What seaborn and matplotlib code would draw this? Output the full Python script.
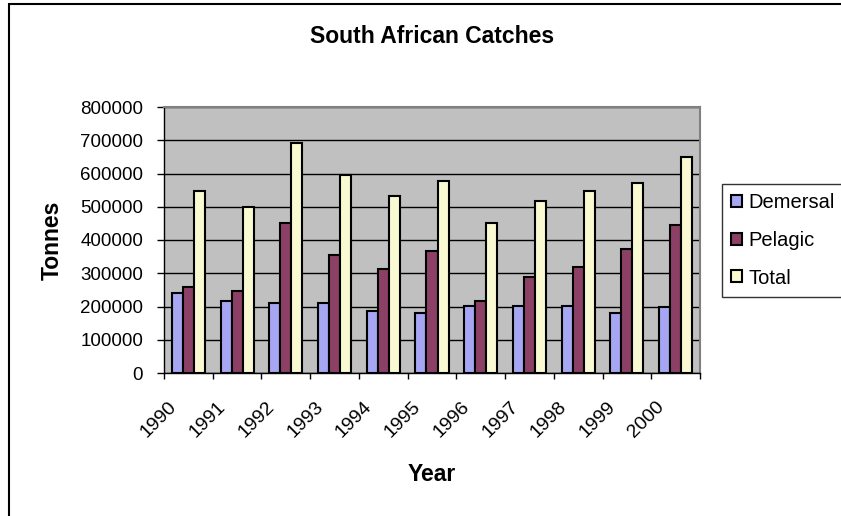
import pandas as pd
import seaborn as sns
import matplotlib.pyplot as plt
import matplotlib.transforms as mtransforms
from matplotlib.patches import Rectangle
from matplotlib.ticker import FuncFormatter

# Data
years = ['1990', '1991', '1992', '1993', '1994', '1995', '1996', '1997', '1998', '1999', '2000']
demersal = [240000, 216000, 210000, 210000, 185000, 179000, 203000, 203000, 203000, 180000, 197000]
pelagic = [258000, 246000, 450000, 355000, 312000, 366000, 216000, 289000, 319000, 372000, 444000]
total = [546000, 499000, 692000, 594000, 533000, 577000, 450000, 517000, 547000, 571000, 649000]
series = ['Demersal', 'Pelagic', 'Total']
colors = ['#9999FF', '#993366', '#FFFFCC']

df = pd.DataFrame({'Year': years * 3,
                   'Tonnes': demersal + pelagic + total,
                   'Series': [s for s in series for _ in years]})

sns.set_style('white')
plt.rcParams['font.family'] = ['Liberation Sans', 'DejaVu Sans']
plt.rcParams.update({'text.color': 'black', 'axes.labelcolor': 'black',
                     'xtick.color': 'black', 'ytick.color': 'black'})

fig = plt.figure(figsize=(8.41, 5.16), dpi=100)
ax = fig.add_axes([164 / 841, 1 - 373 / 516, 536 / 841, 266 / 516])
ax.set_facecolor('#C0C0C0')

sns.barplot(data=df, x='Year', y='Tonnes', hue='Series', palette=colors,
            edgecolor='black', linewidth=1.5, width=0.68, ax=ax, zorder=3)

ax.set_ylim(0, 800000)
ax.set_xlim(-0.5, len(years) - 0.5)
ax.set_yticks(range(0, 800001, 100000))
ax.yaxis.set_major_formatter(FuncFormatter(lambda v, p: f'{int(v)}'))
ax.grid(axis='y', color='black', linewidth=1, zorder=1)
ax.set_axisbelow(True)

# ticks at category boundaries
ax.set_xticks([i - 0.5 for i in range(len(years) + 1)], minor=True)
ax.tick_params(axis='x', which='major', length=0, pad=6)
ax.tick_params(axis='x', which='minor', length=4.5, width=1, color='black', direction='out', bottom=True)
ax.tick_params(axis='y', length=5, width=1, color='black', direction='out', left=True,
               labelsize=13.5, pad=10)
shift = mtransforms.ScaledTranslation(-0.20, -0.17, fig.dpi_scale_trans)
for lab in ax.get_xticklabels():
    lab.set_rotation(45)
    lab.set_ha('right')
    lab.set_va('top')
    lab.set_rotation_mode('anchor')
    lab.set_fontsize(14)
    lab.set_transform(lab.get_transform() + shift)

for side in ['top', 'right']:
    ax.spines[side].set_color('#808080')
    ax.spines[side].set_linewidth(1.5)
for side in ['left', 'bottom']:
    ax.spines[side].set_color('black')
    ax.spines[side].set_linewidth(1)

ax.set_title('South African Catches', fontsize=16.5, fontweight='bold', pad=46)
ax.set_xlabel('Year', fontsize=16.5, fontweight='bold', labelpad=16)
ax.set_ylabel('Tonnes', fontsize=16.5, fontweight='bold', labelpad=12)

leg = ax.legend(loc='upper left', bbox_to_anchor=(722 / 841, 1 - 184 / 516),
                bbox_transform=fig.transFigure, fontsize=14.5, frameon=True,
                fancybox=False, edgecolor='black', handlelength=0.55, handleheight=0.55,
                handletextpad=0.3, labelspacing=0.93, borderpad=0.45, borderaxespad=0)
leg.get_frame().set_linewidth(1)

# outer chart border
fig.patches.append(Rectangle((9 / 841, -0.1), 1.2, 1.1 - 4 / 516, transform=fig.transFigure,
                             fill=False, edgecolor='black', linewidth=1.5))

fig.savefig('out.png', dpi=100)
